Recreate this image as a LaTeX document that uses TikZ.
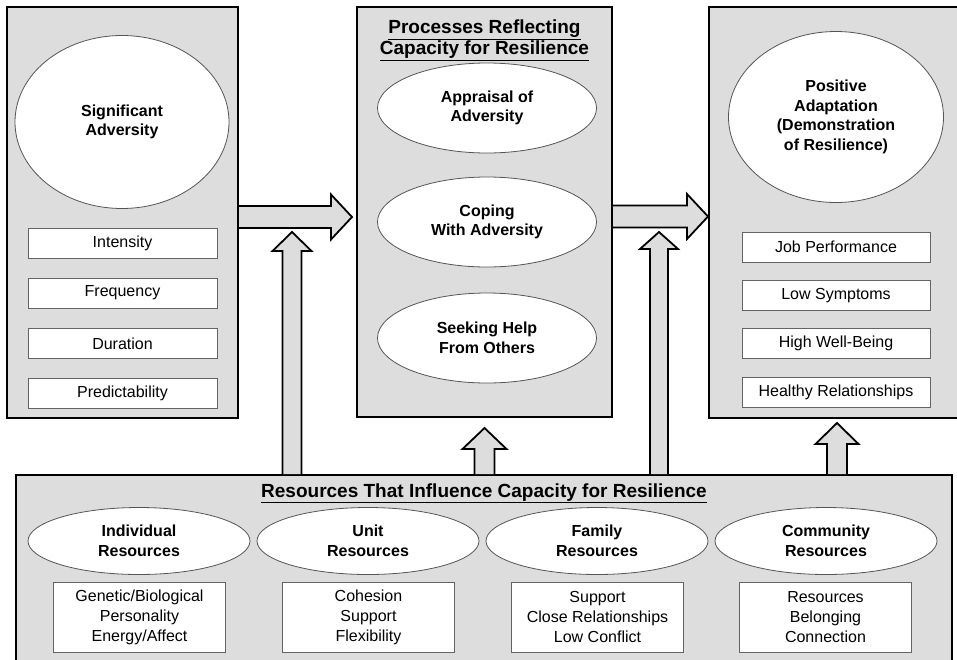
\documentclass[tikz,border=0pt]{standalone}
\usepackage{fontspec}
\setmainfont{Liberation Sans}
\usetikzlibrary{shapes.geometric,calc}
\definecolor{panelgray}{RGB}{221,221,221}
\definecolor{ovalline}{RGB}{85,85,85}
\definecolor{boxline}{RGB}{100,100,100}
\tikzset{
 panel/.style={rectangle, draw=black, line width=2pt, fill=panelgray, inner sep=0},
 oval/.style={ellipse, draw=ovalline, line width=0.8pt, fill=white, inner sep=0, align=center, font=\fontsize{16}{19.5}\selectfont\bfseries},
 itembox/.style={rectangle, draw=boxline, line width=0.9pt, fill=white, inner sep=0, align=center, font=\fontsize{16}{20}\selectfont},
 fatarrow/.style={draw=black, line width=1.8pt, fill=panelgray, line join=miter},
 ptitle/.style={align=center, font=\fontsize{19}{21}\selectfont\bfseries, inner sep=0}
}
% horizontal block arrow: #1 start, #2 tip
\newcommand{\fatH}[2]{%
 \draw[fatarrow] ($(#1)+(0,-11)$) -- ($(#2)+(-21,-11)$) -- ($(#2)+(-21,-22.5)$) -- (#2)
   -- ($(#2)+(-21,22.5)$) -- ($(#2)+(-21,11)$) -- ($(#1)+(0,11)$);}
% vertical block arrow pointing up: #1 base, #2 tip, #3 shaft half width, #4 head half width, #5 head length
\newcommand{\fatV}[5]{%
 \draw[fatarrow] ($(#1)+(-#3,0)$) -- ($(#2)+(-#3,#5)$) -- ($(#2)+(-#4,#5)$) -- (#2)
   -- ($(#2)+(#4,#5)$) -- ($(#2)+(#3,#5)$) -- ($(#1)+(#3,0)$);}
\begin{document}
\begin{tikzpicture}[x=1pt,y=-1pt]
\useasboundingbox (0,0) rectangle (957,659);
\clip (0,0) rectangle (957,659);
\fill[white] (0,0) rectangle (957,659);

% panels
\node[panel, minimum width=231, minimum height=411] (adv) at (122.5,212.5) {};
\node[panel, minimum width=255, minimum height=410] (proc) at (484.5,212) {};
\node[panel, minimum width=256, minimum height=411] (adapt) at (837,212.5) {};
\node[panel, minimum width=936, minimum height=230] (res) at (484,590) {};

% left panel
\node[oval, minimum width=214, minimum height=173] (sig) at (122,122) {Significant\\Adversity};
\node[itembox, minimum width=189, minimum height=30] (int) at (122.5,243) {Intensity};
\node[itembox, minimum width=189, minimum height=30] (freq) at (122.5,293) {Frequency};
\node[itembox, minimum width=189, minimum height=30] (dur) at (122.5,343.5) {Duration};
\node[itembox, minimum width=189, minimum height=30] (pred) at (122.5,393.5) {Predictability};

% middle panel
\node[ptitle] (proctitle) at (484.5,40.5) {\underline{Processes Reflecting}\\\underline{Capacity for Resilience}};
\node[oval, minimum width=219, minimum height=90] (appr) at (487,108) {Appraisal of\\Adversity};
\node[oval, minimum width=219, minimum height=90] (cope) at (487,222) {Coping\\With Adversity};
\node[oval, minimum width=219, minimum height=90] (seek) at (487,338) {Seeking Help\\From Others};

% right panel
\node[oval, minimum width=215, minimum height=171] (pos) at (836,117) {Positive\\Adaptation\\(Demonstration\\of Resilience)};
\node[itembox, minimum width=188, minimum height=30] (job) at (836,247) {Job Performance};
\node[itembox, minimum width=188, minimum height=30] (low) at (836,295.5) {Low Symptoms};
\node[itembox, minimum width=188, minimum height=30] (high) at (836,343.5) {High Well-Being};
\node[itembox, minimum width=188, minimum height=30] (health) at (836,392) {Healthy Relationships};

% bottom panel
\node[ptitle, anchor=base] (restitle) at (484,497) {\underline{Resources That Influence Capacity for Resilience}};
\node[oval, minimum width=222, minimum height=67] (indiv) at (139,541) {Individual\\Resources};
\node[oval, minimum width=222, minimum height=67] (unit) at (368,541) {Unit\\Resources};
\node[oval, minimum width=222, minimum height=67] (fam) at (597,541) {Family\\Resources};
\node[oval, minimum width=222, minimum height=67] (comm) at (826,541) {Community\\Resources};
\node[itembox, minimum width=172, minimum height=70] (indivbox) at (139.5,617) {Genetic/Biological\\Personality\\Energy/Affect};
\node[itembox, minimum width=172, minimum height=70] (unitbox) at (368.5,617) {Cohesion\\Support\\Flexibility};
\node[itembox, minimum width=172, minimum height=70] (fambox) at (597.5,617) {Support\\Close Relationships\\Low Conflict};
\node[itembox, minimum width=172, minimum height=70] (commbox) at (825.5,617) {Resources\\Belonging\\Connection};

% horizontal arrows
\coordinate (h1s) at (adv.east |- 0,217);
\coordinate (h1e) at ($(proc.west |- 0,217)+(-4,0)$);
\coordinate (h2s) at (proc.east |- 0,216.5);
\coordinate (h2e) at (adapt.west |- 0,216.5);
\fatH{h1s}{h1e}
\fatH{h2s}{h2e}

% vertical arrows
\coordinate (vAs) at (res.north -| 292,0);
\coordinate (vAe) at (292,232);
\coordinate (vBs) at (res.north -| 484.5,0);
\coordinate (vBe) at ($(proc.south)+(0,10)$);
\coordinate (vCs) at (res.north -| 659,0);
\coordinate (vCe) at (659,232);
\coordinate (vDs) at (res.north -| 837,0);
\coordinate (vDe) at ($(adapt.south)+(0,4)$);
\fatV{vAs}{vAe}{9.5}{19.5}{19}
\fatV{vBs}{vBe}{10}{22}{21}
\fatV{vCs}{vCe}{9}{19}{17}
\fatV{vDs}{vDe}{10}{21.5}{21}
\end{tikzpicture}
\end{document}
